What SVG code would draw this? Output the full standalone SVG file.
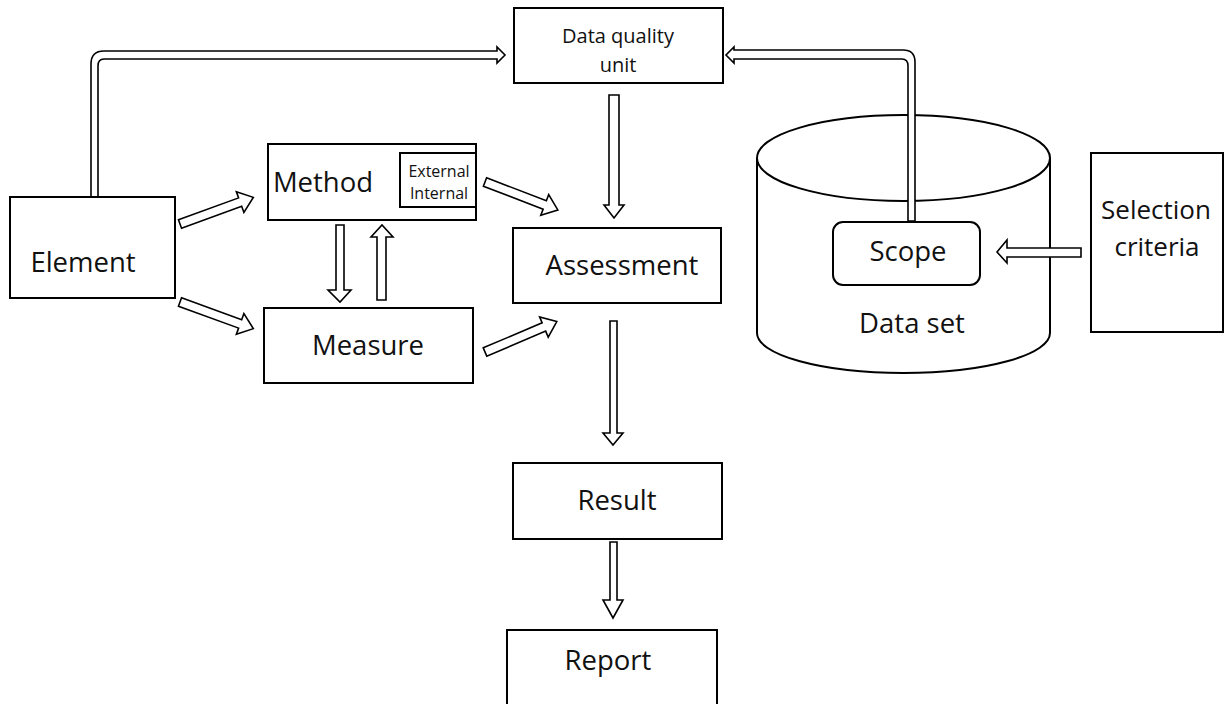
<svg xmlns="http://www.w3.org/2000/svg" width="1224" height="704" viewBox="0 0 1224 704">
<style>
.box{fill:#fff;stroke:#000;stroke-width:2}
.arr{fill:#fff;stroke:#000;stroke-width:1.6;stroke-linejoin:miter}
.t{font-family:"Open Sans","Noto Sans",sans-serif;fill:#111;text-anchor:middle}
.big{font-size:27.5px}
.sel{font-size:26px}
.mid{font-size:20px}
.sm{font-size:16px}
</style>
<rect width="1224" height="704" fill="#fff"/>
<g id="dataset">
<path class="box" d="M757,158 L757,333 A146.5,40 0 0 0 1050,333 L1050,158" />
<ellipse class="box" cx="903.5" cy="158" rx="146.5" ry="43"/>
<text class="t big" x="912" y="333">Data set</text>
</g>
<g id="scope">
<rect class="box" x="833" y="222" width="147" height="63" rx="10"/>
<text class="t big" x="908" y="261">Scope</text>
</g>
<g id="connectors">
<path class="arr" d="M91,216 L91,64 Q91,51 104,51 L497,51 L497,47 L505,55 L497,63 L497,59 L104,59 Q98,59 98,66 L98,216 Z"/>
<path class="arr" d="M915,221 L915,62 Q915,50 903,50 L734,50 L734,47 L726,55 L734,63 L734,59 L902,59 Q908,59 908,66 L908,221 Z"/>
<path class="arr" d="M609,95 L619,95 L619,205 L624,205 L614,218 L604,205 L609,205 Z"/>
<path class="arr" d="M336,225 L344,225 L344,290 L351,290 L340,302 L328,290 L336,290 Z"/>
<path class="arr" d="M377,300 L386,300 L386,237 L393,237 L382,225 L371,237 L377,237 Z"/>
<path class="arr" d="M610,321 L617,321 L617,433 L623,433 L613,445 L603,433 L610,433 Z"/>
<path class="arr" d="M610,542 L617,542 L617,600 L623,600 L613,618 L603,600 L610,600 Z"/>
<path class="arr" d="M1081,248 L1081,257 L1007,257 L1007,263 L997,252 L1007,240 L1007,248 Z"/>
<path class="arr" transform="translate(180,224) rotate(-20)" d="M0,-4.5 L64,-4.5 L64,-11 L78,0 L64,11 L64,4.5 L0,4.5 Z"/>
<path class="arr" transform="translate(180,302) rotate(20)" d="M0,-4.5 L64,-4.5 L64,-11 L78,0 L64,11 L64,4.5 L0,4.5 Z"/>
<path class="arr" transform="translate(485,182) rotate(21)" d="M0,-4.5 L64,-4.5 L64,-11 L78,0 L64,11 L64,4.5 L0,4.5 Z"/>
<path class="arr" transform="translate(485,352) rotate(-23)" d="M0,-4.5 L64,-4.5 L64,-11 L78,0 L64,11 L64,4.5 L0,4.5 Z"/>
</g>
<g id="dq">
<rect class="box" x="514" y="8" width="209" height="75"/>
<text class="t mid" x="618" y="43">Data quality</text>
<text class="t mid" x="618" y="72">unit</text>
</g>
<g id="element">
<rect class="box" x="10" y="197" width="165" height="101"/>
<text class="t big" x="83" y="272">Element</text>
</g>
<g id="method">
<rect class="box" x="268" y="144" width="208" height="76"/>
<text class="t big" x="323" y="192">Method</text>
<rect class="box" x="400" y="153" width="76" height="54"/>
<text class="t sm" x="439" y="177">External</text>
<text class="t sm" x="439" y="199">Internal</text>
</g>
<g id="measure">
<rect class="box" x="264" y="308" width="209" height="75"/>
<text class="t big" x="368" y="355">Measure</text>
</g>
<g id="assessment">
<rect class="box" x="513" y="228" width="208" height="75"/>
<text class="t big" x="622" y="275">Assessment</text>
</g>
<g id="result">
<rect class="box" x="513" y="463" width="209" height="76"/>
<text class="t big" x="617" y="510">Result</text>
</g>
<g id="report">
<rect class="box" x="507" y="630" width="210" height="80"/>
<text class="t big" x="608" y="670">Report</text>
</g>
<g id="selection">
<rect class="box" x="1091" y="153" width="132" height="179"/>
<text class="t sel" x="1156" y="219">Selection</text>
<text class="t sel" x="1157" y="256">criteria</text>
</g>
</svg>
